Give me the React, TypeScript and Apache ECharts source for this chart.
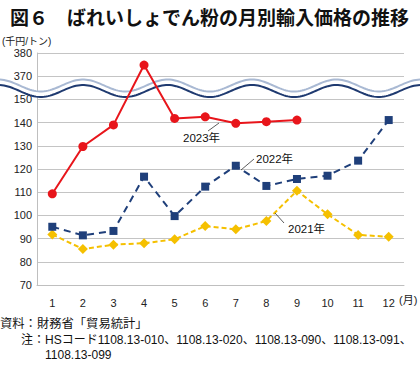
import React, { useEffect, useRef } from "react";
import * as echarts from "echarts";

const months = ["1", "2", "3", "4", "5", "6", "7", "8", "9", "10", "11", "12"];
const values2023 = [109.3, 129.7, 139.0, 374.8, 141.8, 142.5, 139.7, 140.4, 141.1];
const values2022 = [95.1, 91.4, 93.3, 116.7, 99.7, 112.4, 121.4, 112.7, 115.7, 117.1, 123.6, 141.1];
const values2021 = [91.8, 85.5, 87.4, 88.0, 89.7, 95.4, 94.0, 97.6, 110.6, 100.5, 91.6, 90.8];
const axisMin = 70;
const axisMax = 170;
const axisInterval = 10;
const breakAt = 150; // above this the axis jumps
const breakShift = 210; // 160 on axis -> 370, 170 -> 380

const toAxis = (v: number) => (v > breakAt ? v - breakShift : v);
const toLabel = (v: number) => (v > breakAt ? String(v + breakShift) : String(v));

const FONT = "'Liberation Sans', 'Noto Sans CJK JP', sans-serif";
const JP = "'Noto Sans CJK JP', sans-serif";

function wave(center: number): number[][] {
  const pts: number[][] = [];
  for (let x = 0; x <= 420; x += 2) {
    pts.push([x, center - 6 * Math.cos((2 * Math.PI * (x - 83)) / 84.5)]);
  }
  return pts;
}

export default function App() {
  const ref = useRef<HTMLDivElement>(null);
  useEffect(() => {
    if (!ref.current) return;
    const chart = echarts.init(ref.current, undefined, { renderer: "svg" });
    const upper = wave(85.5);
    const lower = wave(91);
    const band = [...upper, ...lower.slice().reverse()];
    chart.setOption({
      animation: false,
      backgroundColor: "#fff",
      grid: { left: 37, right: 16, top: 53, bottom: 84 },
      xAxis: {
        type: "category",
        data: months,
        boundaryGap: true,
        axisLine: { show: true, lineStyle: { color: "#bfbfbf", width: 1 } },
        axisTick: { show: false },
        axisLabel: { color: "#222", fontSize: 11, margin: 12, fontFamily: FONT },
      },
      yAxis: {
        type: "value",
        min: axisMin,
        max: axisMax,
        interval: axisInterval,
        axisLine: { show: true, lineStyle: { color: "#bfbfbf", width: 1 } },
        axisTick: { show: false },
        splitLine: { lineStyle: { color: "#c4c4c4", width: 1 } },
        axisLabel: {
          color: "#222",
          fontSize: 11,
          margin: 5,
          fontFamily: FONT,
          formatter: (v: number) => toLabel(v),
        },
      },
      series: [
        {
          name: "2021年",
          type: "line",
          data: values2021.map(toAxis),
          symbol: "diamond",
          symbolSize: 10,
          itemStyle: { color: "#f5c000" },
          lineStyle: { color: "#f5c000", width: 2, type: [5, 3] },
          z: 3,
        },
        {
          name: "2022年",
          type: "line",
          data: values2022.map(toAxis),
          symbol: "rect",
          symbolSize: 8,
          itemStyle: { color: "#1f3f7a" },
          lineStyle: { color: "#1f3f7a", width: 2, type: [7, 5] },
          z: 4,
        },
        {
          name: "2023年",
          type: "line",
          data: values2023.map(toAxis),
          symbol: "circle",
          symbolSize: 9,
          itemStyle: { color: "#e8151b" },
          lineStyle: { color: "#e8151b", width: 2 },
          z: 5,
        },
      ],
      graphic: [
        { type: "polygon", z: 1, shape: { points: band }, style: { fill: "#fff" } },
        { type: "polyline", z: 1, shape: { points: upper }, style: { stroke: "#a9b9d3", lineWidth: 2, fill: null } },
        { type: "polyline", z: 1, shape: { points: lower }, style: { stroke: "#1f3a70", lineWidth: 2, fill: null } },
        {
          type: "text", x: 10, y: 16, z: 10,
          style: { text: "図６　ばれいしょでん粉の月別輸入価格の推移", fontSize: 19, fontWeight: "bold", fontFamily: JP, fill: "#111", textVerticalAlign: "middle" },
        },
        {
          type: "text", x: 2, y: 41, z: 10,
          style: { text: "(千円/トン)", fontSize: 10, fontFamily: FONT, fill: "#222", textVerticalAlign: "middle" },
        },
        {
          type: "text", x: 399, y: 300, z: 10,
          style: { text: "(月)", fontSize: 11, fontFamily: FONT, fill: "#222", textVerticalAlign: "middle" },
        },
        { type: "line", z: 10, shape: { x1: 219, y1: 123, x2: 208, y2: 131 }, style: { stroke: "#333", lineWidth: 0.8 } },
        {
          type: "text", x: 183, y: 138, z: 10,
          style: { text: "2023年", fontSize: 11.5, fontFamily: FONT, fill: "#111", textVerticalAlign: "middle" },
        },
        { type: "line", z: 10, shape: { x1: 241, y1: 170, x2: 254, y2: 159 }, style: { stroke: "#333", lineWidth: 0.8 } },
        {
          type: "text", x: 256, y: 159, z: 10,
          style: { text: "2022年", fontSize: 11.5, fontFamily: FONT, fill: "#111", textVerticalAlign: "middle" },
        },
        { type: "line", z: 10, shape: { x1: 275, y1: 213, x2: 284, y2: 223 }, style: { stroke: "#333", lineWidth: 0.8 } },
        {
          type: "text", x: 288, y: 229, z: 10,
          style: { text: "2021年", fontSize: 11.5, fontFamily: FONT, fill: "#111", textVerticalAlign: "middle" },
        },
        {
          type: "text", x: 0, y: 324, z: 10,
          style: { text: "資料：財務省「貿易統計」", fontSize: 12.3, fontFamily: FONT, fill: "#111", textVerticalAlign: "middle" },
        },
        {
          type: "text", x: 21, y: 340, z: 10,
          style: { text: "注：HSコード1108.13-010、1108.13-020、1108.13-090、1108.13-091、", fontSize: 12, fontFamily: FONT, fill: "#111", textVerticalAlign: "middle" },
        },
        {
          type: "text", x: 45, y: 355, z: 10,
          style: { text: "1108.13-099", fontSize: 12, fontFamily: FONT, fill: "#111", textVerticalAlign: "middle" },
        },
      ],
    });
    return () => chart.dispose();
  }, []);
  return (
    <div
      ref={ref}
      style={{ position: "absolute", left: 0, top: 0, width: 420, height: 369 }}
    />
  );
}
